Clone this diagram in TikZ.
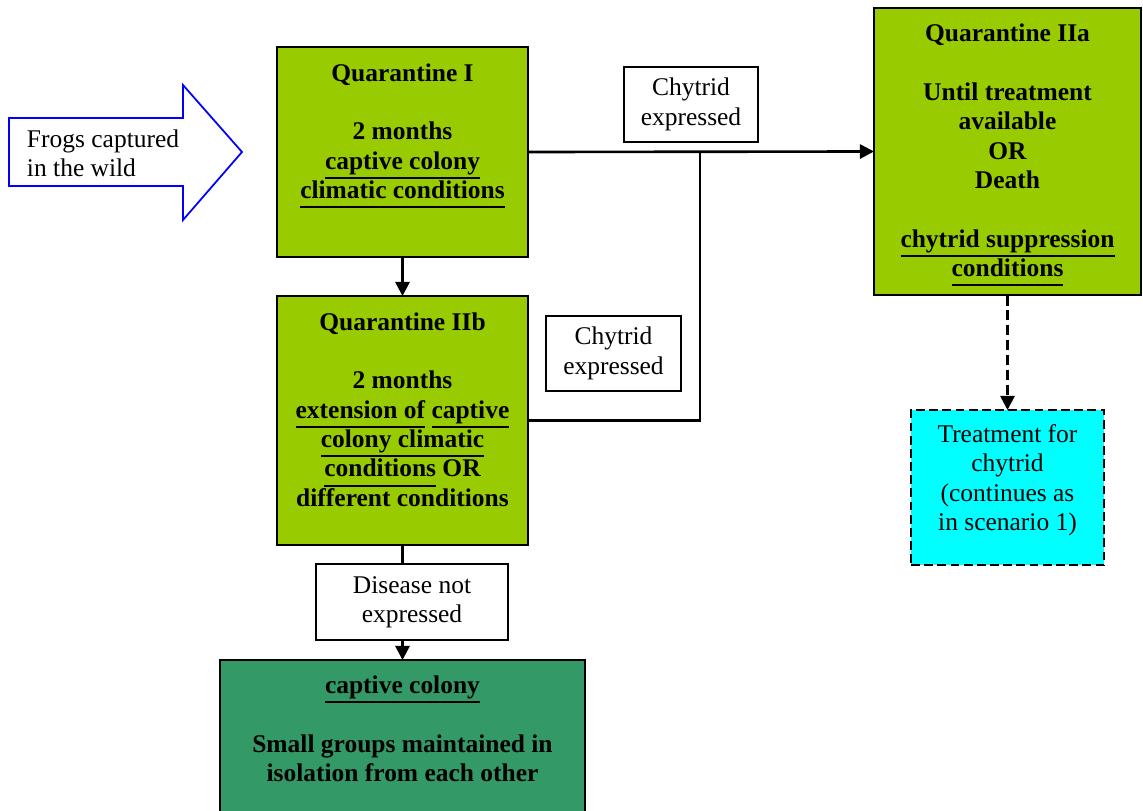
\documentclass[tikz,border=0pt]{standalone}
\usepackage{fontspec}
\setmainfont{Liberation Serif}
\usetikzlibrary{arrows.meta, positioning}
\definecolor{qgreen}{RGB}{153, 204, 0}
\definecolor{colonygreen}{RGB}{51, 153, 102}
\definecolor{treatcyan}{RGB}{0, 255, 255}
\newcommand{\undl}[1]{\setbox0\hbox{#1}\rlap{\rule[-5.5pt]{\wd0}{1.1pt}}\box0\relax}

\begin{document}
\begin{tikzpicture}[x=0.02cm, y=-0.02cm,
  >={Triangle[length=8pt, width=8pt]},
  every node/.style={font=\fontsize{14.5}{16.7}\selectfont, outer sep=0pt},
  qbox/.style={draw, line width=0.8pt, fill=qgreen},
  btext/.style={align=center, inner sep=0pt, anchor=north, font=\fontsize{14.5}{16.7}\selectfont\bfseries},
  tag/.style={draw, line width=0.6pt, fill=white, align=center, inner sep=0pt},
  link/.style={line width=1.5pt}]
\useasboundingbox (0,0) rectangle (1143,811);

% Frogs arrow
\draw[blue, line width=1pt, fill=white] (9,118) -- (183,118) -- (183,85) -- (242,152)
  -- (183,220) -- (183,186) -- (9,186) -- cycle;
\node[align=left, inner sep=0pt, anchor=north west] (frogs) at (27,129.5) {Frogs captured\\in the wild};

% Quarantine boxes
\node[qbox, minimum width=5.02cm, minimum height=4.2cm] (q1) at (402.5,152) {};
\node[btext] (q1txt) at (402.5,63.5) {Quarantine I\\[16.7pt]2 months\\\undl{captive colony}\\\undl{climatic conditions}};

\node[qbox, minimum width=5.02cm, minimum height=4.98cm] (q2b) at (402.5,420.5) {};
\node[btext] (q2btxt) at (402.5,312.5) {Quarantine IIb\\[16.7pt]2 months\\\undl{extension of} \undl{captive}\\\undl{colony climatic}\\\undl{conditions} OR\\different conditions};

\node[qbox, minimum width=5.34cm, minimum height=5.74cm] (q2a) at (1007.5,151.5) {};
\node[btext] (q2atxt) at (1007.5,24) {Quarantine IIa\\[16.7pt]Until treatment\\available\\OR\\Death\\[16.7pt]\undl{chytrid suppression}\\\undl{conditions}};

% Treatment
\node[draw, line width=0.9pt, dash pattern=on 5pt off 2.5pt, fill=treatcyan,
  minimum width=3.86cm, minimum height=3.1cm] (treat) at (1007.5,487.5) {};
\node[align=center, inner sep=0pt, anchor=north] (treattxt) at (1007.5,424.5) {Treatment for\\chytrid\\(continues as\\in scenario 1)};

% Captive colony
\node[draw, line width=0.8pt, fill=colonygreen, minimum width=7.3cm, minimum height=3.4cm] (colony) at (402.5,745) {};
\node[btext] (colonytxt) at (402.5,676) {\undl{captive colony}\\[16.7pt]Small groups maintained in\\isolation from each other};

% Connectors
\coordinate (join) at (700,152);
\draw[link, ->] (q1.east) -- (q2a.west);
\draw[link] (q2b.east) -| (join);
\draw[link, ->] (q1.south) -- (q2b.north);
\draw[link, ->] (q2b.south) -- (colony.north);
\draw[link, ->, dash pattern=on 6pt off 2.5pt] (q2a.south) -- (treat.north);

% Labels
\node[tag, minimum width=2.68cm, minimum height=1.5cm] (chy1) at (691,104.5) {Chytrid\\expressed};
\node[tag, minimum width=2.7cm, minimum height=1.5cm] (chy2) at (613.5,353.5) {Chytrid\\expressed};
\node[tag, minimum width=3.84cm, minimum height=1.52cm] (notexp) at (412,602) {Disease not\\expressed};
\end{tikzpicture}
\end{document}
